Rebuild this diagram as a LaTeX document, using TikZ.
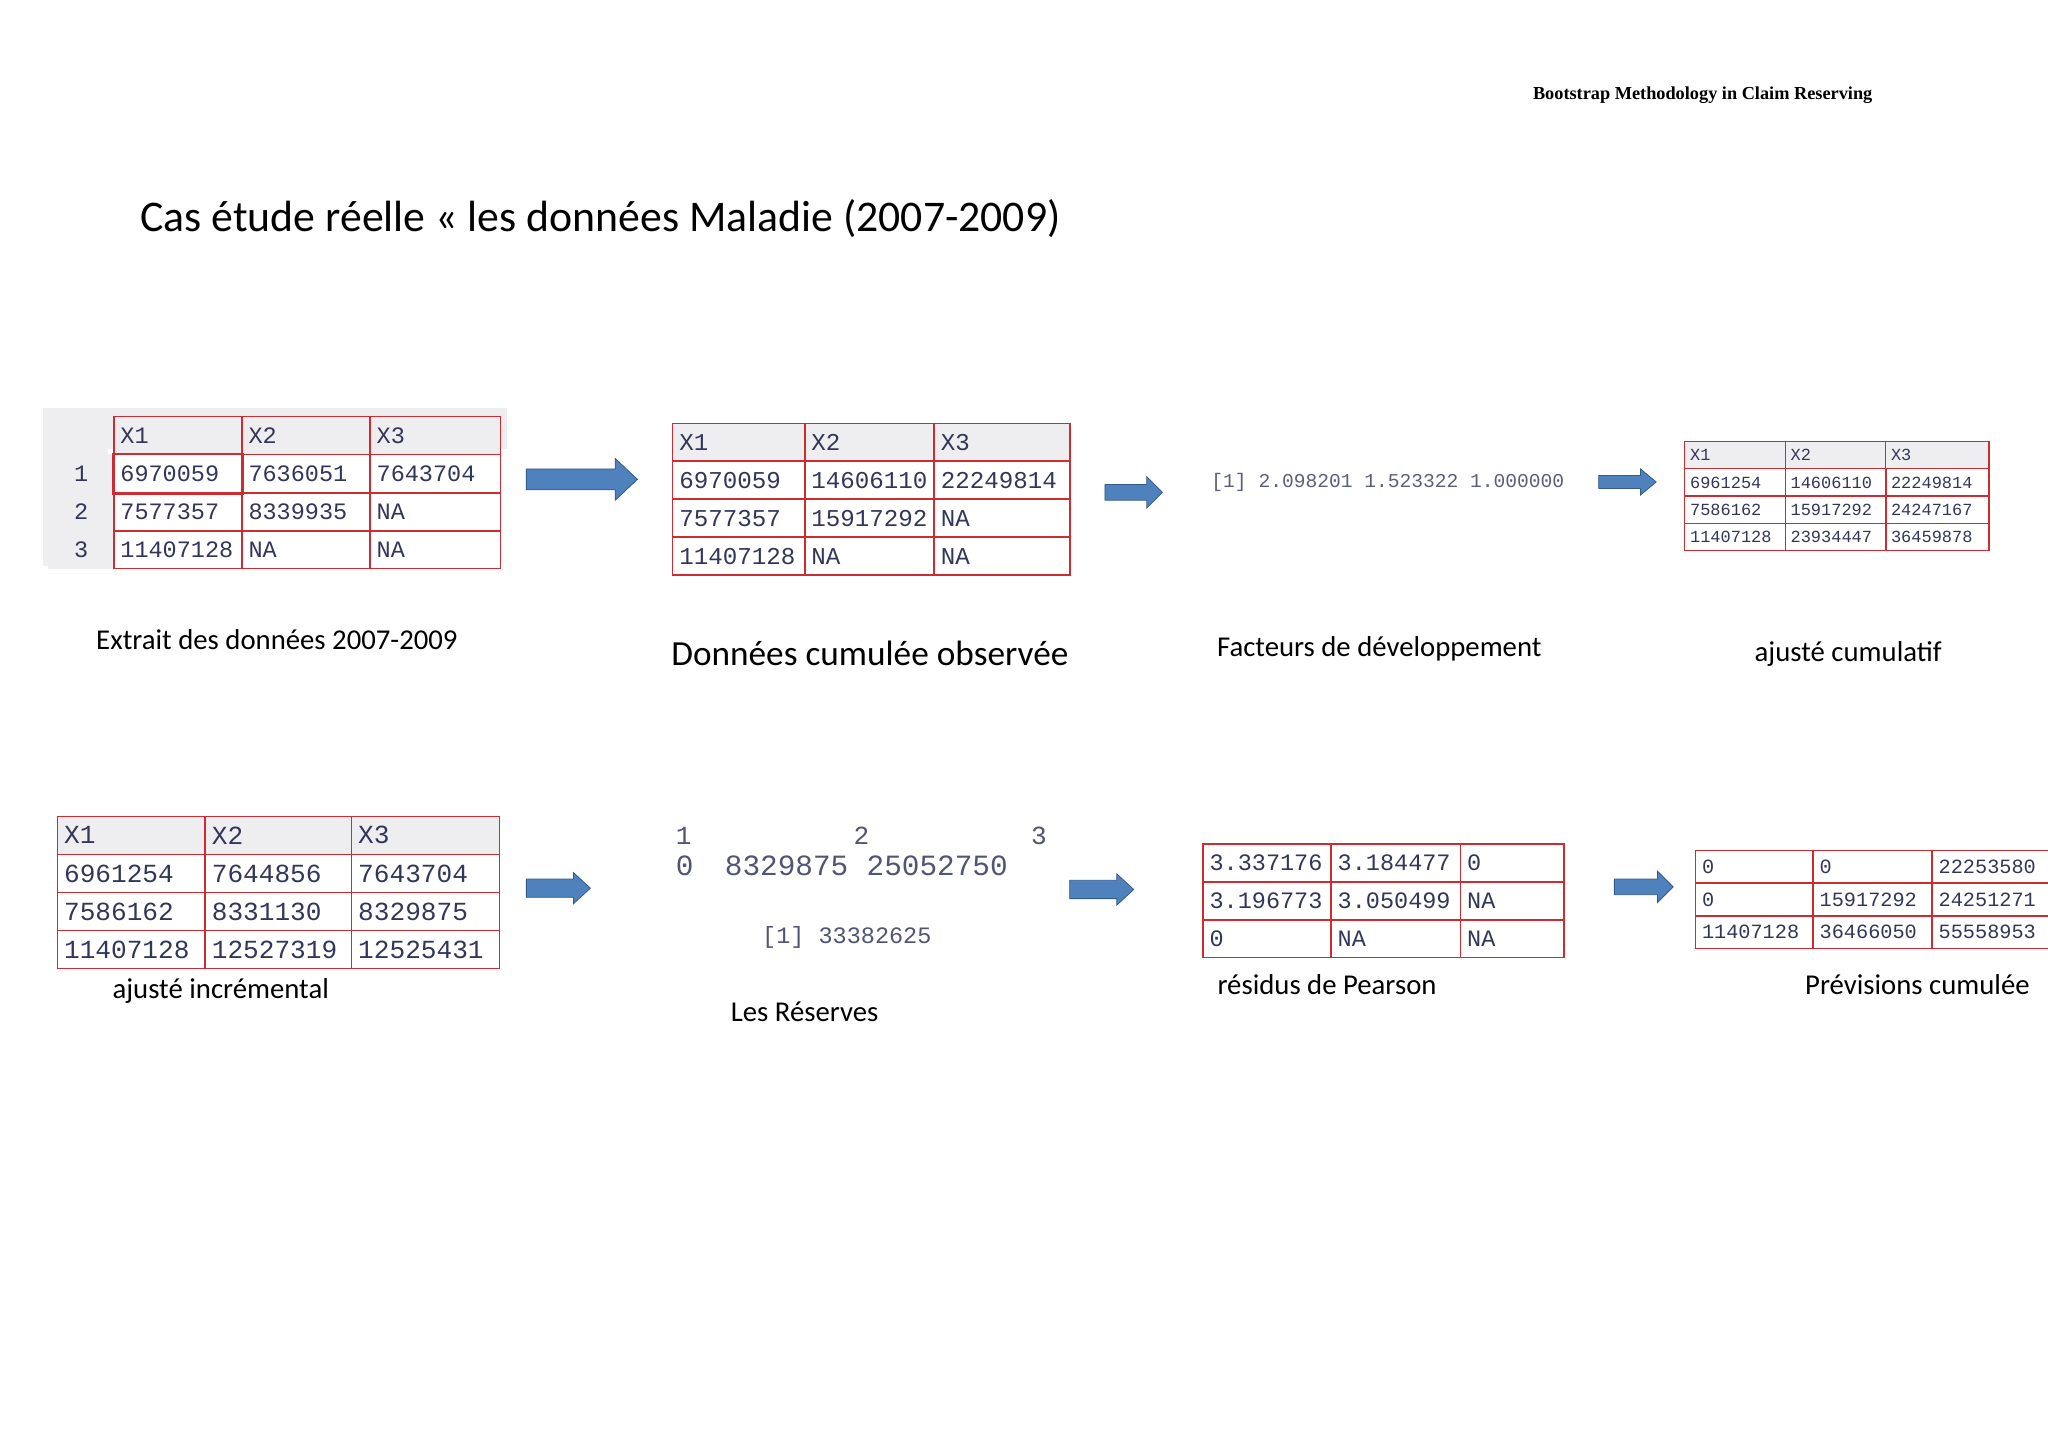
\documentclass[tikz,border=0pt]{standalone}
\usepackage{fontspec}
\setmainfont{Carlito}
\newfontfamily\mono{Liberation Mono}
\newfontfamily\tnr{Liberation Serif}
\usetikzlibrary{matrix}
\definecolor{tred}{RGB}{205,45,50}
\definecolor{ttext}{RGB}{50,55,90}
\definecolor{hgray}{RGB}{238,238,240}
\definecolor{ablue}{RGB}{79,129,189}
\definecolor{ablued}{RGB}{50,90,140}
\tikzset{
 tbl/.style={matrix of nodes, anchor=north west, column sep=-1pt, row sep=-1pt,
   nodes={draw=tred, line width=1.1pt, text=ttext, inner ysep=0pt, inner xsep=5pt, anchor=center, align=left}},
 barrow/.style={fill=ablue, draw=ablued, line width=0.6pt, line join=miter},
 lbl/.style={font=\fontsize{22}{26}\selectfont, text=black}
}
% x1 x2 yc shafthalf headhalf headlen
\newcommand\blockarrow[6]{\draw[barrow] (#1,#3-#4) -- (#2-#6,#3-#4) -- (#2-#6,#3-#5) -- (#2,#3) -- (#2-#6,#3+#5) -- (#2-#6,#3+#4) -- (#1,#3+#4) -- cycle;}
\begin{document}
\begin{tikzpicture}[x=1pt,y=-1pt]
\useasboundingbox (0,0) rectangle (1568,1110);
\fill[white] (0,0) rectangle (1568,1110);
\node[anchor=east,font=\tnr\bfseries\fontsize{14}{16}\selectfont] (hdr) at (1437,73) {Bootstrap Methodology in Claim Reserving};
\node[anchor=west,font=\fontsize{33.5}{38}\selectfont] (title) at (104,167) {Cas étude réelle « les données Maladie (2007-2009)};
% table 1
\fill[hgray] (33,312) rectangle (388,344);
\fill[hgray] (33,312) rectangle (83,433);
\matrix[tbl, nodes={font=\mono\fontsize{18}{19}\selectfont, minimum height=29pt},
  column 1/.style={nodes={text width=40pt, align=center, fill=hgray, draw=hgray}},
  column 2/.style={nodes={text width=88pt}}, column 3/.style={nodes={text width=88pt}},
  column 4/.style={nodes={text width=90pt}},
  row 1/.style={nodes={fill=hgray}}] (t1) at (33,315) {
 & X1 & X2 & X3 \\
 1 & 6970059 & 7636051 & 7643704 \\
 2 & 7577357 & 8339935 & NA \\
 3 & 11407128 & NA & NA \\};
\draw[tred,line width=2pt] (t1-2-2.north west) rectangle (t1-2-2.south east);
\node[lbl] (l1) at (212,490) {Extrait des données 2007-2009};
\blockarrow{403}{488}{367}{8}{16}{17}
% table 2
\matrix[tbl, nodes={font=\mono\fontsize{18.5}{19}\selectfont, minimum height=29pt},
  column 1/.style={nodes={text width=91pt}}, column 2/.style={nodes={text width=89pt}},
  column 3/.style={nodes={text width=94pt}}, row 1/.style={nodes={fill=hgray}}] (t2) at (511,320) {
 X1 & X2 & X3 \\
 6970059 & 14606110 & 22249814 \\
 7577357 & 15917292 & NA \\
 11407128 & NA & NA \\};
\node[lbl,font=\fontsize{27}{30}\selectfont] (l2) at (666,500) {Données cumulée observée};
\blockarrow{846}{890}{377}{6}{12}{12}
\node[anchor=west,text=ttext!80,font=\mono\fontsize{15}{16}\selectfont] (fac) at (924,369) {[1] 2.098201 1.523322 1.000000};
\node[lbl] (l3) at (1056,497) {Facteurs de développement};
\blockarrow{1224}{1268}{369}{5}{10}{12}
% table 4
\matrix[tbl, nodes={font=\mono\fontsize{13}{14}\selectfont, minimum height=21pt, line width=0.9pt, inner xsep=4pt},
  column 1/.style={nodes={text width=69pt}}, column 2/.style={nodes={text width=69pt}},
  column 3/.style={nodes={text width=71pt}}, row 1/.style={nodes={fill=hgray}}] (t4) at (1286,334) {
 X1 & X2 & X3 \\
 6961254 & 14606110 & 22249814 \\
 7586162 & 15917292 & 24247167 \\
 11407128 & 23934447 & 36459878 \\};
\node[lbl] (l4) at (1415,501) {ajusté cumulatif};
% table 5
\matrix[tbl, nodes={font=\mono\fontsize{20}{21}\selectfont, minimum height=29pt},
  column 1/.style={nodes={text width=103pt}}, column 2/.style={nodes={text width=102pt}},
  column 3/.style={nodes={text width=103pt}}, row 1/.style={nodes={fill=hgray}}] (t5) at (40,621) {
 X1 & X2 & X3 \\
 6961254 & 7644856 & 7643704 \\
 7586162 & 8331130 & 8329875 \\
 11407128 & 12527319 & 12525431 \\};
\node[lbl] (l5) at (169,759) {ajusté incrémental};
\blockarrow{403}{452}{680}{7}{12}{13}
% reserves
\node[anchor=west,text=ttext!85,font=\mono\fontsize{20}{22}\selectfont] (r1) at (514,640) {1\hspace{124pt}2\hspace{124pt}3};
\node[anchor=west,text=ttext!85,font=\mono\fontsize{22.5}{24}\selectfont] (r2) at (514,663) {0\hspace{24pt}8329875\hspace{14pt}25052750};
\node[anchor=west,text=ttext!85,font=\mono\fontsize{18}{19}\selectfont] (r3) at (580,718) {[1] 33382625};
\node[lbl] (l6) at (616,775) {Les Réserves};
\blockarrow{819}{868}{681}{7}{12}{13}
% table 6
\matrix[tbl, nodes={font=\mono\fontsize{18}{19}\selectfont, minimum height=29pt},
  column 1/.style={nodes={text width=88pt}}, column 2/.style={nodes={text width=89pt}},
  column 3/.style={nodes={text width=69pt}}] (t6) at (917,642) {
 3.337176 & 3.184477 & 0 \\
 3.196773 & 3.050499 & NA \\
 0 & NA & NA \\};
\node[lbl] (l7) at (1016,754) {résidus de Pearson};
\blockarrow{1236}{1281}{679}{6}{12}{12}
% table 7
\matrix[tbl, nodes={font=\mono\fontsize{15.5}{16}\selectfont, minimum height=25pt},
  column 1/.style={nodes={text width=80pt}}, column 2/.style={nodes={text width=81pt}},
  column 3/.style={nodes={text width=82pt}}] (t7) at (1294,647) {
 0 & 0 & 22253580 \\
 0 & 15917292 & 24251271 \\
 11407128 & 36466050 & 55558953 \\};
\node[lbl] (l8) at (1468,754) {Prévisions cumulée};
\end{tikzpicture}
\end{document}
